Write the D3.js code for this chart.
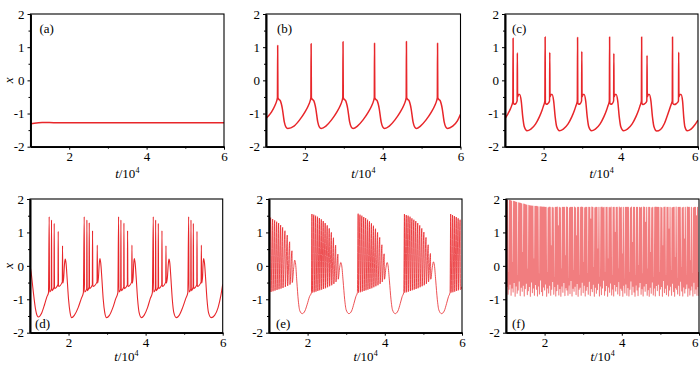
<!DOCTYPE html>
<html><head><meta charset="utf-8">
<script src="https://cdn.jsdelivr.net/npm/d3@7"></script>
<style>
body{margin:0;background:#fff}
svg{display:block}
svg text{font-family:"Liberation Serif","Times New Roman",serif !important;}
</style>
</head><body>
<svg id="c" width="700" height="365"></svg>
<script>
// ---------- data ----------
const xTicks = [2, 4, 6];
const xMinor = [3, 5];
const yTicks = [-2, -1, 0, 1, 2];
const yMinor = [-1.5, -0.5, 0.5, 1.5];
const panelLabels = ["(a)", "(b)", "(c)", "(d)", "(e)", "(f)"];

// (a) quiescent state
const tA = [1.00, 1.10, 1.30, 1.60, 2.00, 3.00, 4.00, 5.00, 6.00];
const xA = [-1.31, -1.29, -1.27, -1.275, -1.28, -1.28, -1.28, -1.28, -1.28];

// (b) periodic single spikes
const tB = [1.000,1.140,1.230,1.275,1.294,1.300,1.307,1.330,1.370,1.420,1.470,1.510,1.560,
  1.720,1.860,2.000,2.090,2.135,2.154,2.160,2.167,2.190,2.230,2.280,2.330,2.370,2.420,
  2.540,2.680,2.820,2.910,2.955,2.974,2.980,2.987,3.010,3.050,3.100,3.150,3.190,3.240,
  3.350,3.490,3.630,3.720,3.765,3.784,3.790,3.797,3.820,3.860,3.910,3.960,4.000,4.050,
  4.170,4.310,4.450,4.540,4.585,4.604,4.610,4.617,4.640,4.680,4.730,4.780,4.820,4.870,
  4.970,5.110,5.250,5.340,5.385,5.404,5.410,5.417,5.440,5.480,5.530,5.580,5.620,5.670,
  5.800,5.920,6.000];
const xB = [-1.15,-0.96,-0.76,-0.62,-0.52,1.05,-0.52,-0.57,-0.62,-0.85,-1.25,-1.40,-1.45,
  -1.38,-1.20,-0.96,-0.76,-0.62,-0.52,1.10,-0.52,-0.57,-0.62,-0.85,-1.25,-1.40,-1.45,
  -1.38,-1.20,-0.96,-0.76,-0.62,-0.52,1.16,-0.52,-0.57,-0.62,-0.85,-1.25,-1.40,-1.45,
  -1.38,-1.20,-0.96,-0.76,-0.62,-0.52,1.12,-0.52,-0.57,-0.62,-0.85,-1.25,-1.40,-1.45,
  -1.38,-1.20,-0.96,-0.76,-0.62,-0.52,1.17,-0.52,-0.57,-0.62,-0.85,-1.25,-1.40,-1.45,
  -1.38,-1.20,-0.96,-0.76,-0.62,-0.52,1.12,-0.52,-0.57,-0.62,-0.85,-1.25,-1.40,-1.45,
  -1.38,-1.22,-1.02];

// (c) periodic spike doublets
const tC = [1.000,1.080,1.140,1.180,1.203,1.210,1.216,1.240,1.280,1.314,1.320,1.326,1.350,1.380,1.420,1.460,1.500,1.570,1.670,1.790,1.890,1.960,2.000,2.025,2.033,
  2.040,2.046,2.070,2.110,2.154,2.160,2.166,2.190,2.220,2.260,2.300,2.340,2.410,2.510,2.630,2.730,2.800,2.840,2.865,2.873,
  2.880,2.886,2.910,2.950,2.984,2.990,2.996,3.020,3.050,3.090,3.130,3.170,3.240,3.340,3.460,3.560,3.630,3.670,3.695,3.703,
  3.710,3.716,3.740,3.780,3.814,3.820,3.826,3.850,3.880,3.920,3.960,4.000,4.070,4.170,4.290,4.390,4.460,4.500,4.525,4.533,
  4.540,4.546,4.575,4.625,4.674,4.680,4.686,4.710,4.740,4.780,4.820,4.860,4.930,5.030,5.130,5.200,5.260,5.300,5.325,5.333,
  5.340,5.346,5.380,5.440,5.494,5.500,5.506,5.530,5.560,5.600,5.630,5.660,5.720,5.820,5.920,6.000];
const xC = [-1.15,-1.00,-0.86,-0.74,-0.64,1.27,-0.68,-0.72,-0.70,-0.62,0.83,-0.50,-0.43,-0.43,-0.62,-1.10,-1.40,-1.52,-1.47,-1.32,-1.10,-0.90,-0.76,-0.67,-0.62,
  1.31,-0.68,-0.72,-0.70,-0.62,0.84,-0.50,-0.43,-0.43,-0.62,-1.10,-1.40,-1.52,-1.47,-1.32,-1.10,-0.90,-0.76,-0.67,-0.62,
  1.29,-0.68,-0.72,-0.70,-0.62,0.87,-0.50,-0.43,-0.43,-0.62,-1.10,-1.40,-1.52,-1.47,-1.32,-1.10,-0.90,-0.76,-0.67,-0.62,
  1.31,-0.68,-0.72,-0.70,-0.62,0.81,-0.50,-0.43,-0.43,-0.62,-1.10,-1.40,-1.52,-1.47,-1.32,-1.10,-0.90,-0.76,-0.67,-0.62,
  1.31,-0.68,-0.73,-0.70,-0.62,0.75,-0.50,-0.43,-0.43,-0.62,-1.10,-1.40,-1.53,-1.48,-1.30,-1.08,-0.88,-0.74,-0.66,-0.62,
  1.31,-0.68,-0.73,-0.70,-0.62,0.85,-0.50,-0.43,-0.43,-0.62,-1.10,-1.40,-1.52,-1.47,-1.34,-1.20];

// (d) bursting, five spikes per burst
const tD = [1.000,1.030,1.080,1.140,1.190,1.220,1.300,1.380,1.440,1.480,
  1.498,1.506,1.552,1.558,1.566,1.622,1.628,1.636,1.726,1.732,1.740,1.838,1.844,1.852,1.875,1.895,1.913,1.935,1.965,2.000,2.040,2.080,2.150,2.250,2.330,2.385,
  2.407,2.415,2.470,2.476,2.484,2.531,2.537,2.545,2.617,2.623,2.631,2.739,2.745,2.753,2.776,2.796,2.814,2.836,2.866,2.900,2.940,2.985,3.060,3.150,3.225,3.280,
  3.299,3.307,3.353,3.359,3.367,3.431,3.437,3.445,3.526,3.532,3.540,3.639,3.645,3.653,3.676,3.690,3.706,3.728,3.758,3.792,3.832,3.890,3.960,4.050,4.120,4.175,
  4.199,4.207,4.254,4.260,4.268,4.323,4.329,4.337,4.418,4.424,4.432,4.522,4.528,4.536,4.565,4.588,4.606,4.628,4.658,4.692,4.732,4.795,4.870,4.960,5.040,5.095,
  5.117,5.125,5.171,5.177,5.185,5.232,5.238,5.246,5.327,5.333,5.341,5.440,5.446,5.454,5.477,5.490,5.506,5.528,5.558,5.592,5.632,5.700,5.790,5.880,5.950,6.000];
const xD = [0.00,-0.20,-0.72,-1.27,-1.50,-1.53,-1.42,-1.15,-0.92,-0.80,
  1.47,-0.78,-0.70,1.37,-0.74,-0.64,1.27,-0.68,-0.56,1.03,-0.62,-0.48,0.60,-0.52,-0.35,0.05,0.20,0.08,-0.40,-1.00,-1.40,-1.55,-1.48,-1.25,-0.98,-0.80,
  1.47,-0.78,-0.70,1.37,-0.74,-0.64,1.29,-0.68,-0.57,1.05,-0.62,-0.48,0.62,-0.52,-0.35,0.05,0.22,0.08,-0.40,-1.00,-1.40,-1.55,-1.48,-1.25,-0.98,-0.80,
  1.47,-0.78,-0.70,1.37,-0.74,-0.64,1.28,-0.68,-0.57,1.05,-0.62,-0.48,0.62,-0.52,-0.35,0.05,0.22,0.08,-0.40,-1.00,-1.40,-1.55,-1.48,-1.25,-0.98,-0.80,
  1.47,-0.78,-0.70,1.37,-0.74,-0.64,1.27,-0.68,-0.57,1.05,-0.62,-0.48,0.60,-0.52,-0.35,0.05,0.20,0.08,-0.40,-1.00,-1.40,-1.55,-1.48,-1.25,-0.98,-0.80,
  1.47,-0.78,-0.70,1.37,-0.74,-0.64,1.27,-0.68,-0.57,1.03,-0.62,-0.48,0.62,-0.52,-0.35,0.05,0.22,0.08,-0.40,-1.00,-1.40,-1.55,-1.48,-1.25,-0.90,-0.55];

// (e) bursting, many spikes per burst
const tE = [1.000,
  1.043,1.051,1.095,1.103,1.147,1.155,1.199,1.207,1.250,1.258,1.302,1.310,1.354,1.362,1.414,1.422,1.474,1.482,1.535,1.543,1.595,1.603,
  1.640,1.665,1.690,1.720,1.760,1.800,1.860,1.930,1.990,2.050,2.100,
  2.112,2.120,2.160,2.168,2.208,2.216,2.257,2.265,2.306,2.314,2.356,2.364,2.406,2.414,2.457,2.465,2.509,2.517,2.562,2.570,2.616,2.624,2.671,2.679,2.727,2.735,2.785,2.793,
  2.830,2.860,2.885,2.920,2.960,3.000,3.070,3.140,3.200,3.250,3.290,
  3.310,3.318,3.358,3.366,3.406,3.414,3.455,3.463,3.504,3.512,3.554,3.562,3.604,3.612,3.655,3.663,3.707,3.715,3.760,3.768,3.814,3.822,3.869,3.877,3.925,3.933,3.983,3.991,
  4.030,4.060,4.085,4.120,4.160,4.200,4.270,4.340,4.400,4.450,4.490,
  4.509,4.517,4.557,4.565,4.605,4.613,4.654,4.662,4.703,4.711,4.753,4.761,4.803,4.811,4.854,4.862,4.906,4.914,4.959,4.967,5.013,5.021,5.068,5.076,5.124,5.132,5.182,5.190,
  5.230,5.260,5.285,5.320,5.360,5.400,5.470,5.540,5.600,5.650,5.690,
  5.707,5.715,5.755,5.763,5.803,5.811,5.852,5.860,5.901,5.909,5.951,5.959,6.000];
const xE = [-0.72,
  1.44,-0.78,1.40,-0.76,1.36,-0.74,1.32,-0.72,1.28,-0.70,1.22,-0.68,1.15,-0.66,1.05,-0.63,0.92,-0.60,0.72,-0.56,0.45,-0.50,
  -0.05,0.17,0.05,-0.45,-1.05,-1.35,-1.43,-1.35,-1.15,-0.92,-0.80,
  1.55,-0.80,1.53,-0.79,1.50,-0.77,1.47,-0.75,1.43,-0.73,1.39,-0.71,1.34,-0.69,1.28,-0.67,1.21,-0.64,1.12,-0.61,1.00,-0.58,0.84,-0.54,0.62,-0.48,0.35,-0.40,
  -0.05,0.10,0.00,-0.45,-1.00,-1.32,-1.43,-1.35,-1.13,-0.92,-0.80,
  1.56,-0.80,1.53,-0.79,1.50,-0.77,1.46,-0.75,1.43,-0.73,1.38,-0.71,1.33,-0.69,1.27,-0.67,1.20,-0.64,1.11,-0.61,1.00,-0.58,0.85,-0.54,0.63,-0.48,0.36,-0.40,
  -0.05,0.10,0.00,-0.45,-1.00,-1.32,-1.43,-1.35,-1.13,-0.92,-0.80,
  1.55,-0.80,1.52,-0.79,1.50,-0.77,1.47,-0.75,1.42,-0.73,1.38,-0.71,1.34,-0.69,1.28,-0.67,1.21,-0.64,1.12,-0.61,1.01,-0.58,0.85,-0.54,0.63,-0.48,0.37,-0.40,
  -0.05,0.12,0.02,-0.45,-1.00,-1.32,-1.43,-1.35,-1.13,-0.92,-0.80,
  1.55,-0.80,1.52,-0.79,1.49,-0.77,1.46,-0.75,1.42,-0.73,1.38,-0.71,-0.62];

// (f) chaotic firing: successive minima and maxima
const fTrough = [-0.90,-0.62,-0.85,-0.70,-0.55,-0.88,-0.66,-0.78,-0.50,-0.91,
  -0.60,-0.82,-0.72,-0.45,-0.89,-0.64,-0.76,-0.58,-0.90,-0.68,
  -0.52,-0.86,-0.74,-0.62,-0.91,-0.48,-0.80,-0.66,-0.88,-0.56,
  -0.70,-0.90,-0.60,-0.84,-0.42,-0.77,-0.89,-0.63,-0.72,-0.54,
  -0.91,-0.66,-0.81,-0.58,-0.88,-0.70,-0.47,-0.85,-0.62,-0.90,
  -0.74,-0.55,-0.87,-0.68,-0.91,-0.60,-0.79,-0.50,-0.89,-0.65,
  -0.72,-0.88,-0.57,-0.83,-0.44,-0.90,-0.67,-0.76,-0.61,-0.86,
  -0.53,-0.91,-0.70,-0.64,-0.88,-0.49,-0.80,-0.58,-0.90,-0.73,
  -0.62,-0.85,-0.46,-0.89,-0.68,-0.77,-0.55,-0.91,-0.64,-0.82,
  -0.71,-0.52,-0.90,-0.60,-0.86,-0.66,-0.43,-0.88,-0.74,-0.59,
  -0.91,-0.63,-0.79,-0.51,-0.87,-0.69,-0.90,-0.56,-0.75,-0.62,
  -0.84,-0.47,-0.89,-0.67,-0.73,-0.91,-0.58,-0.81,-0.54,-0.88,
  -0.65,-0.90,-0.70,-0.45,-0.86,-0.61,-0.78,-0.91,-0.57,-0.72,
  -0.89,-0.63,-0.50,-0.85,-0.68,-0.90,-0.60,-0.76,-0.53,-0.88,
  -0.71,-0.91,-0.64,-0.82,-0.48,-0.87,-0.66,-0.90,-0.59,-0.74,
  -0.55,-0.89,-0.69,-0.62,-0.91,-0.44,-0.80,-0.67,-0.86,-0.57,
  -0.90,-0.72,-0.61,-0.88,-0.52,-0.77,-0.91,-0.65,-0.70,-0.84,
  -0.58,-0.89,-0.46,-0.75,-0.90,-0.63,-0.81,-0.68,-0.54,-0.91,
  -0.66,-0.87,-0.72,-0.60,-0.90,-0.49,-0.83,-0.69,-0.88,-0.62];
const fPeak = [1.98,1.97,-0.20,1.96,1.95,1.94,0.10,1.93,1.92,1.91,
  1.90,-0.30,1.89,1.88,1.87,1.86,0.40,1.85,1.84,1.83,
  1.82,-0.10,1.81,1.80,1.80,1.79,1.79,0.20,1.78,1.78,
  1.78,1.77,-0.25,1.77,1.77,1.76,1.76,1.76,
  1.75,1.75,-0.20,1.74,1.76,1.75,0.60,1.75,1.74,-0.35,
  1.75,1.75,1.76,1.20,1.75,1.74,-0.10,1.75,1.75,1.75,
  0.30,1.76,1.75,-0.40,1.74,1.75,1.75,1.75,-0.15,1.76,
  1.74,0.90,1.75,1.75,-0.30,1.75,1.76,1.75,0.10,1.74,
  1.75,1.75,-0.25,1.75,1.75,1.40,1.76,1.75,-0.05,1.74,
  1.75,1.75,0.50,1.75,-0.35,1.75,1.76,1.74,1.75,-0.20,
  1.75,1.75,0.20,1.75,1.74,1.76,-0.30,1.75,1.75,1.00,
  1.75,1.75,-0.10,1.76,1.74,1.75,0.35,1.75,-0.40,1.75,
  1.75,1.75,1.75,-0.20,1.74,1.76,0.70,1.75,1.75,-0.30,
  1.75,1.75,0.00,1.75,1.74,1.75,-0.25,1.76,1.75,1.30,
  1.75,-0.10,1.75,1.75,0.40,1.74,1.75,-0.35,1.75,1.76,
  1.75,1.75,
  1.75,-0.20,1.75,1.74,0.60,1.75,1.76,-0.30,1.75,1.75,
  1.10,1.75,-0.15,1.74,1.75,1.75,0.25,1.76,-0.40,1.75,
  1.75,1.75,-0.05,1.74,1.75,0.80,1.75,-0.30,1.76,1.75,
  1.75,0.15,1.75,-0.25,1.74,1.75,1.75,1.50,1.75,-0.20];

// ---------- drawing ----------
const svg = d3.select("#c");
const FONT = "Liberation Serif";
const RED = "#e8262a";

function zipPts(ts, xs) { return ts.map((t, i) => [t, xs[i]]); }
// (f): minima and maxima alternate along evenly spaced sample slots
const fPts = [];
fTrough.forEach((v, i) => {
  const n = fTrough.length;
  fPts.push([1 + 5 * i / n, v]);
  fPts.push([1 + 5 * (i + 0.5) / n, fPeak[i]]);
});
fPts.push([6, fTrough[0]]);

const panels = [
  { L: 30.5, R: 224,   T: 14,  B: 146.7, pts: zipPts(tA, xA), w: 1.5, curve: d3.curveMonotoneX, lab: [9, 19], top: true, ylab: true },
  { L: 266,  R: 460.5, T: 14,  B: 146.7, pts: zipPts(tB, xB), w: 1.5, curve: d3.curveMonotoneX, lab: [11, 19], top: true },
  { L: 505,  R: 698,   T: 14,  B: 146.7, pts: zipPts(tC, xC), w: 1.5, curve: d3.curveMonotoneX, lab: [7, 19], top: true, edge: true },
  { L: 30,   R: 222.7, T: 199, B: 332.7, pts: zipPts(tD, xD), w: 1.1, curve: d3.curveMonotoneX, lab: [5, -5], ylab: true },
  { L: 269,  R: 462,   T: 199, B: 332.7, pts: zipPts(tE, xE), w: 0.8, curve: d3.curveMonotoneX, lab: [7, -5] },
  { L: 506,  R: 699,   T: 199, B: 332.7, pts: fPts,           w: 1.1, curve: d3.curveLinear, lab: [6, -5], op: 0.6, edge: true }
];

panels.forEach((p, k) => {
  const x = d3.scaleLinear().domain([1, 6]).range([p.L, p.R]);
  const y = d3.scaleLinear().domain([-2, 2]).range([p.B, p.T]);
  const g = svg.append("g");

  const clipId = "clip" + k;
  svg.append("clipPath").attr("id", clipId).append("rect")
    .attr("x", p.L).attr("y", p.T).attr("width", p.R - p.L).attr("height", p.B - p.T);

  const line = d3.line().x(d => x(d[0])).y(d => y(d[1])).curve(p.curve);
  g.append("path").attr("clip-path", `url(#${clipId})`)
    .attr("d", line(p.pts)).attr("fill", "none")
    .attr("stroke", RED).attr("stroke-width", p.w)
    .attr("stroke-opacity", p.op || 1).attr("stroke-linejoin", "round");

  // frame
  g.append("rect").attr("x", p.L).attr("y", p.T).attr("width", p.R - p.L).attr("height", p.B - p.T)
    .attr("fill", "none").attr("stroke", "#000").attr("stroke-width", 1.1);

  const fmt = d => String(d);
  const ax = g.append("g").attr("transform", `translate(${p.L},0)`)
    .call(d3.axisLeft(y).tickValues(yTicks).tickFormat(fmt).tickSize(3).tickSizeOuter(0).tickPadding(3));
  const axm = g.append("g").attr("transform", `translate(${p.L},0)`)
    .call(d3.axisLeft(y).tickValues(yMinor).tickFormat("").tickSize(2).tickSizeOuter(0));
  const bx = g.append("g").attr("transform", `translate(0,${p.B})`)
    .call(d3.axisBottom(x).tickValues(xTicks).tickFormat(fmt).tickSize(3).tickSizeOuter(0).tickPadding(2));
  const bxm = g.append("g").attr("transform", `translate(0,${p.B})`)
    .call(d3.axisBottom(x).tickValues(xMinor).tickFormat("").tickSize(2).tickSizeOuter(0));
  [ax, axm, bx, bxm].forEach(a => {
    a.attr("font-family", FONT);
    a.select(".domain").attr("stroke", "#000").attr("stroke-width", 1.6);
    a.selectAll(".tick line").attr("stroke", "#000").attr("stroke-width", 1);
    a.selectAll("text").attr("font-size", 13).attr("fill", "#000");
  });
  if (p.edge) {
    // keep the last tick label inside the window at the right edge
    bx.selectAll(".tick text").filter(d => d === 6).attr("text-anchor", "end").attr("x", 698 - p.R);
  }

  // x-axis title  t/10^4
  const xt = g.append("text").attr("x", (p.L + p.R) / 2).attr("y", p.top ? p.B + 31 : p.B + 28)
    .attr("text-anchor", "middle").attr("font-size", 13).attr("fill", "#000");
  xt.append("tspan").attr("font-style", "italic").text("t");
  xt.append("tspan").text("/10");
  xt.append("tspan").attr("font-size", 8).attr("dy", -5).text("4");

  if (p.ylab) {
    g.append("text").attr("transform", `translate(13,${(p.T + p.B) / 2}) rotate(-90)`)
      .attr("text-anchor", "middle").attr("font-style", "italic")
      .attr("font-size", 13).attr("fill", "#000").text("x");
  }

  g.append("text").attr("x", p.L + p.lab[0]).attr("y", p.lab[1] > 0 ? p.T + p.lab[1] : p.B + p.lab[1])
    .attr("font-size", 13).attr("fill", "#000").text(panelLabels[k]);
});
</script>
</body></html>
